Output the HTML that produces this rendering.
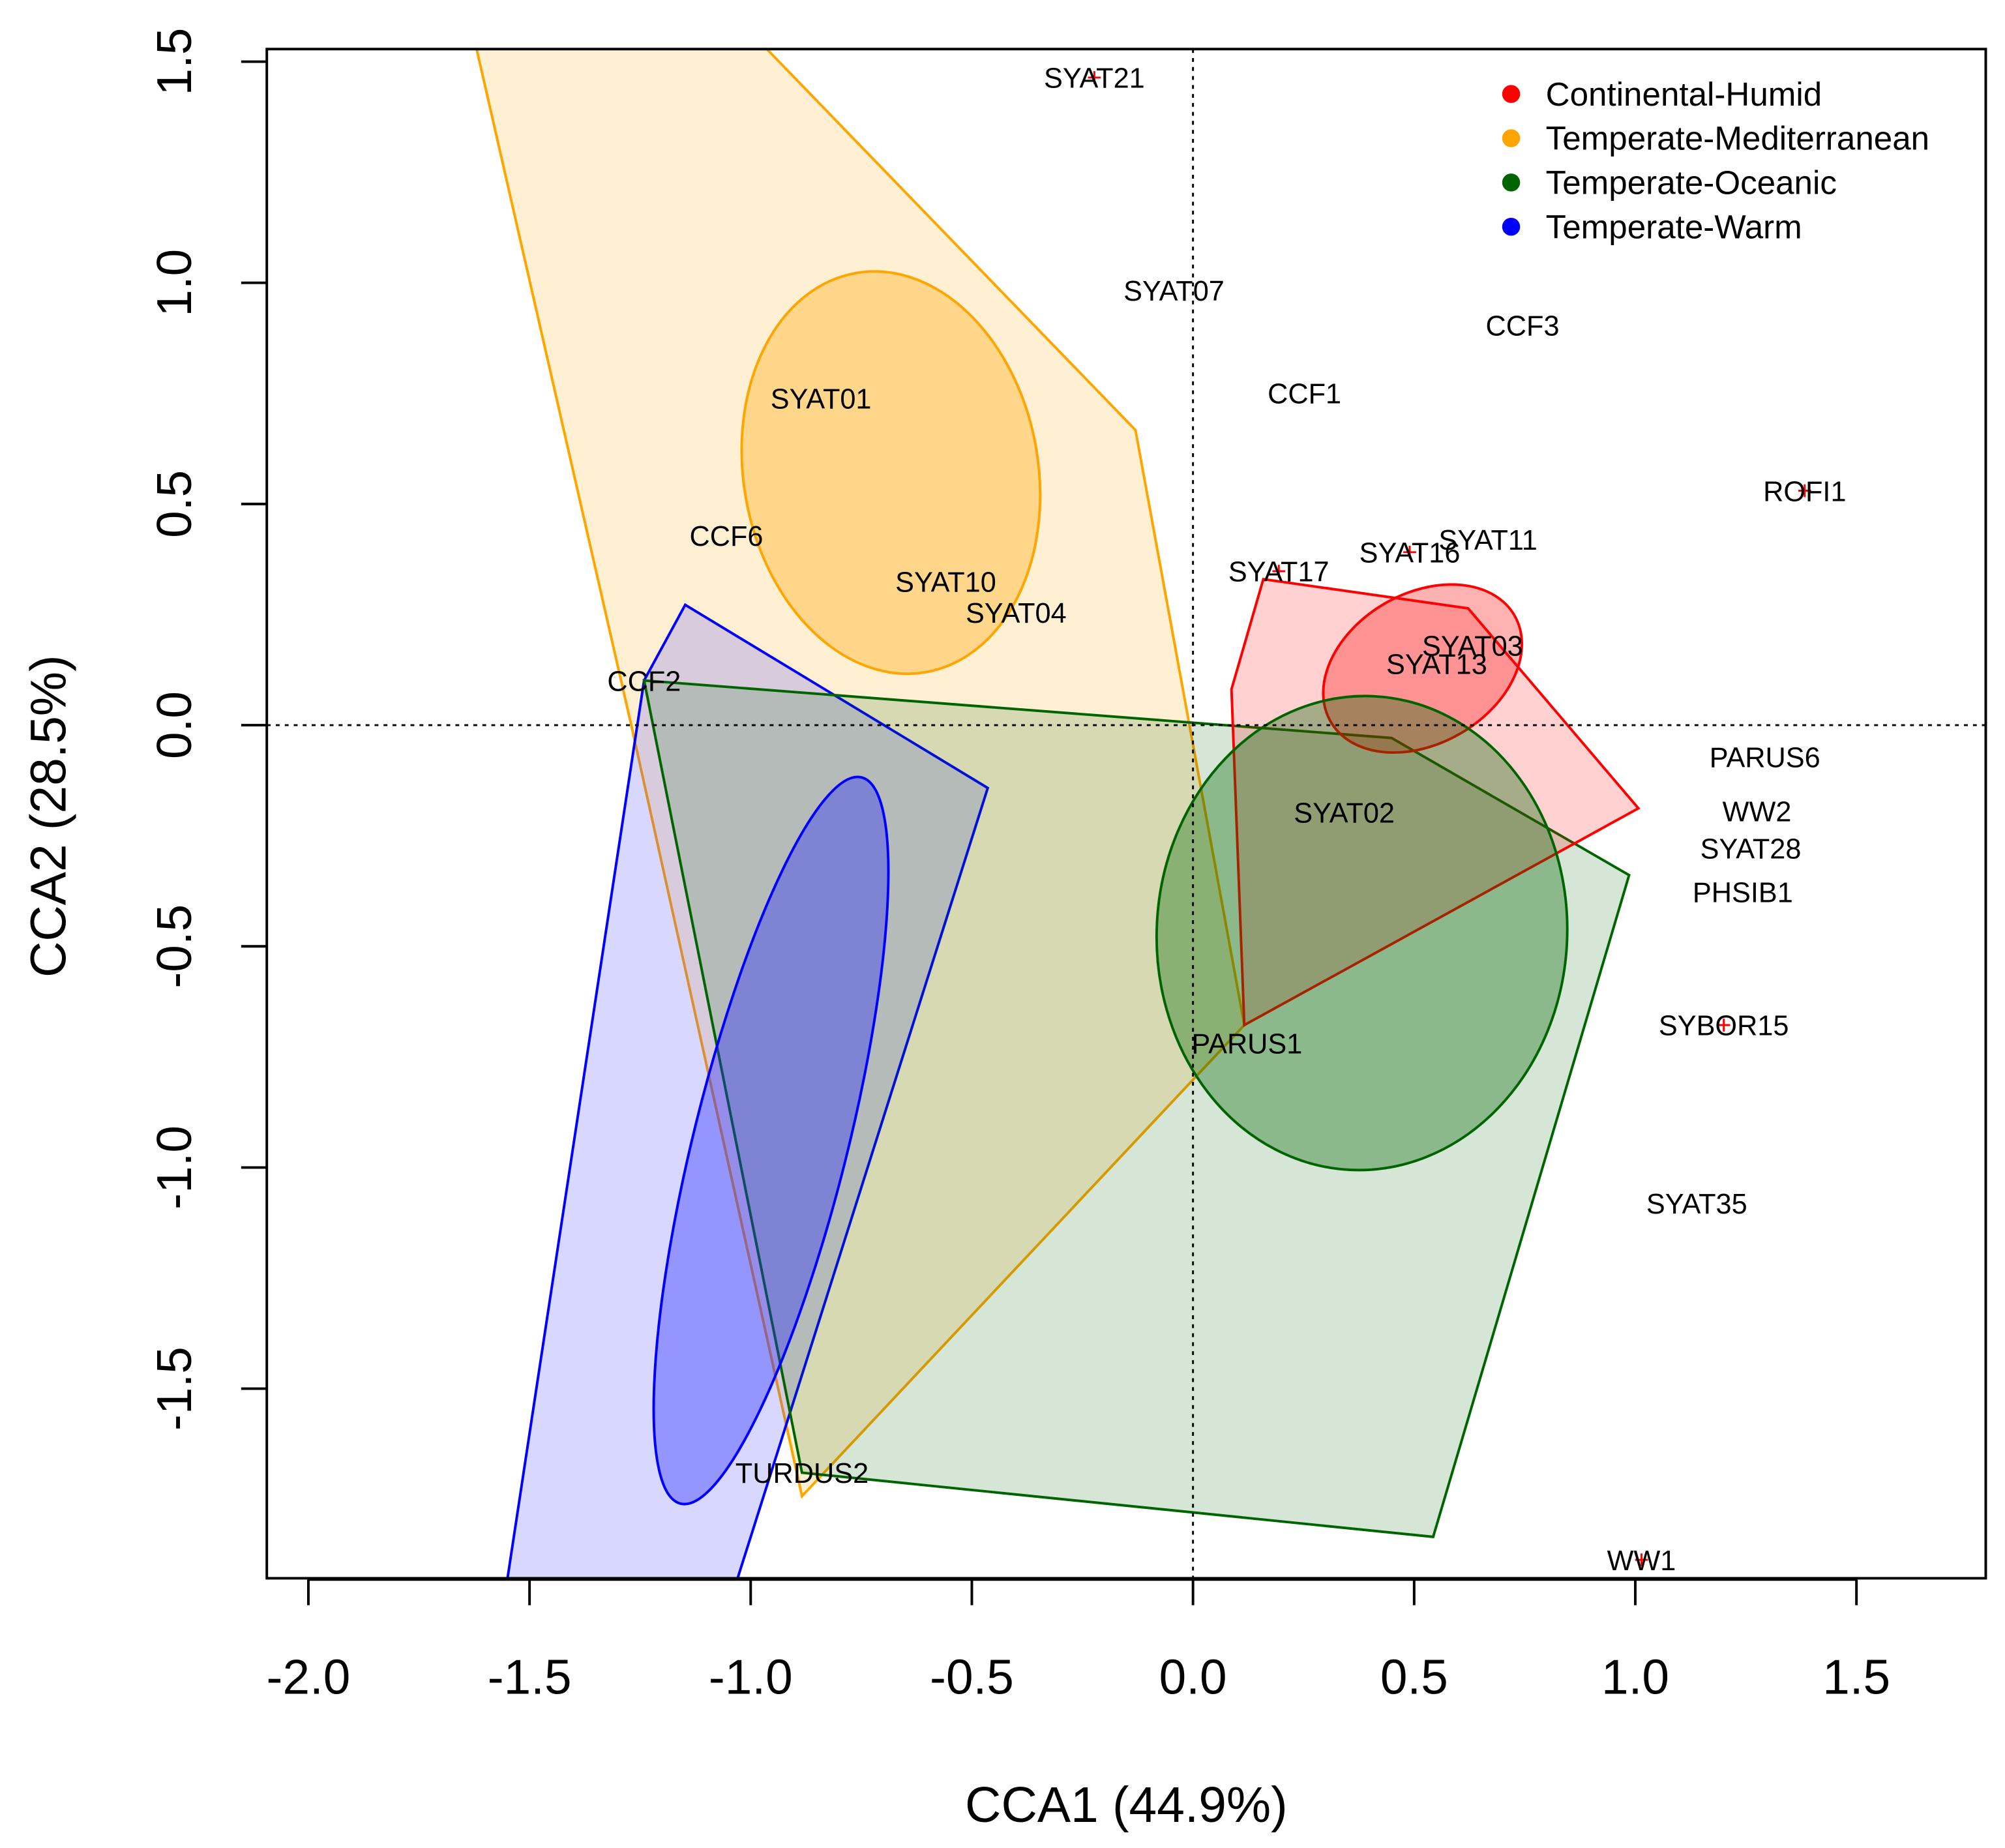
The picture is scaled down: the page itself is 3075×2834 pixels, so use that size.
<!DOCTYPE html>
<html><head><meta charset="utf-8"><style>
html,body{margin:0;padding:0;background:#fff;}
svg{display:block;font-family:"Liberation Sans",sans-serif;}
</style></head><body>
<svg id="chart" width="3075" height="2834" viewBox="0 0 1563 1440" xmlns="http://www.w3.org/2000/svg">
<defs><clipPath id="clip"><rect x="208" y="38" width="1340" height="1192"/></clipPath></defs>
<g id="plot" clip-path="url(#clip)"></g>
<g id="axes"></g>
</svg>
<script>
const labels=["SYAT21","SYAT07","CCF3","CCF1","SYAT01","ROFI1","CCF6","SYAT11","SYAT16","SYAT17","SYAT10","SYAT04","SYAT03","SYAT13","CCF2","PARUS6","SYAT02","WW2","SYAT28","PHSIB1","SYBOR15","PARUS1","SYAT35","TURDUS2","WW1"];
const xs=[-0.223,-0.043,0.745,0.252,-0.841,1.383,-1.055,0.667,0.490,0.194,-0.559,-0.400,0.632,0.551,-1.241,1.293,0.342,1.275,1.261,1.243,1.200,0.122,1.139,-0.884,1.014];
const ys=[1.464,0.983,0.904,0.751,0.739,0.530,0.429,0.420,0.391,0.348,0.325,0.255,0.180,0.139,0.101,-0.072,-0.197,-0.194,-0.278,-0.377,-0.678,-0.719,-1.081,-1.690,-1.887];
const crossIdx=[0,5,8,9,20,24];
const xTicks=[-2.0,-1.5,-1.0,-0.5,0.0,0.5,1.0,1.5];
const yTicks=[-1.5,-1.0,-0.5,0.0,0.5,1.0,1.5];
const hullOrangeX=[-1.620,-0.965,-0.130,0.116,-0.884,-1.270];
const hullOrangeY=[1.530,1.530,0.667,-0.678,-1.743,0.0];
const hullBlueX=[-1.148,-0.464,-1.030,-1.550,-1.241];
const hullBlueY=[0.272,-0.142,-1.930,-1.930,0.101];
const hullGreenX=[-1.241,0.449,0.986,0.543,-0.884];
const hullGreenY=[0.101,-0.029,-0.339,-1.835,-1.690];
const hullRedX=[0.159,0.622,1.007,0.116,0.087];
const hullRedY=[0.330,0.264,-0.188,-0.678,0.081];
const groups=["Continental-Humid","Temperate-Mediterranean","Temperate-Oceanic","Temperate-Warm"];
const groupColors=["#ff0000","#ffa500","#006400","#0000ff"];
const ellCx=[0.519,-0.683,0.382,-0.954];
const ellCy=[0.128,0.571,-0.470,-0.939];
const ellRx=[0.240,0.333,0.464,0.174];
const ellRy=[0.170,0.458,0.536,0.846];
const ellRot=[-30,-10,3,14];

const S=344.8;
const X=v=>930+v*S, Y=v=>565-v*S;
const NS="http://www.w3.org/2000/svg";
function mk(tag,attrs,parent){const e=document.createElementNS(NS,tag);for(const k in attrs)e.setAttribute(k,attrs[k]);parent.appendChild(e);return e;}
const plot=document.getElementById('plot'), axes=document.getElementById('axes');

function hull(hx,hy,fill,stroke,name){
  const pts=hx.map((v,i)=>X(v)+','+Y(hy[i])).join(' ');
  const p=mk('polygon',{points:pts,fill:fill,stroke:stroke,'stroke-width':2},plot);
  
  
}
hull(hullOrangeX,hullOrangeY,'rgba(255,165,0,0.17)','#ffa500','hull-temperate-mediterranean');
hull(hullBlueX,hullBlueY,'rgba(60,60,255,0.2)','#0000ff','hull-temperate-warm');
hull(hullGreenX,hullGreenY,'rgba(0,100,0,0.16)','#006400','hull-temperate-oceanic');
hull(hullRedX,hullRedY,'rgba(255,0,0,0.18)','#ff0000','hull-continental-humid');

const ellNames=['ellipse-continental-humid','ellipse-temperate-mediterranean','ellipse-temperate-oceanic','ellipse-temperate-warm'];
const ellFill=['rgba(255,0,0,0.3)','rgba(255,165,0,0.35)','rgba(0,100,0,0.35)','rgba(40,40,255,0.38)'];
for(let i=0;i<4;i++){
  const cx=X(ellCx[i]),cy=Y(ellCy[i]);
  const e=mk('ellipse',{cx:cx,cy:cy,rx:ellRx[i]*S,ry:ellRy[i]*S,transform:`rotate(${ellRot[i]} ${cx} ${cy})`,fill:ellFill[i],stroke:groupColors[i],'stroke-width':2},plot);
  
  
}
let l=mk('line',{x1:X(0),x2:X(0),y1:38,y2:1230,stroke:'#000','stroke-width':1.5,'stroke-dasharray':'3,4'},plot);


l=mk('line',{x1:208,x2:1548,y1:Y(0),y2:Y(0),stroke:'#000','stroke-width':1.5,'stroke-dasharray':'3,4'},plot);


crossIdx.forEach(i=>{
  const g=mk('path',{d:`M${X(xs[i])-5},${Y(ys[i])}h10M${X(xs[i])},${Y(ys[i])-5}v10`,stroke:'#ff0000','stroke-width':1.5},plot);
  
  
});
labels.forEach((t,i)=>{
  const tx=mk('text',{x:X(xs[i]),y:Y(ys[i])+8,'font-size':22,'text-anchor':'middle',fill:'#000'},plot);
  tx.textContent=t;
  
  
});
const box=mk('rect',{x:208,y:38,width:1340,height:1192,fill:'none',stroke:'#000','stroke-width':2},axes);


let xa=mk('line',{x1:X(xTicks[0]),x2:X(xTicks[xTicks.length-1]),y1:1231,y2:1231,stroke:'#000','stroke-width':2},axes);


xTicks.forEach(v=>{
  const t=mk('line',{x1:X(v),x2:X(v),y1:1231,y2:1251,stroke:'#000','stroke-width':2},axes);
  
  
  const s=mk('text',{x:X(v),y:1320,'font-size':38,'text-anchor':'middle'},axes);
  s.textContent=v.toFixed(1);
  
  
});
yTicks.forEach(v=>{
  const t=mk('line',{x1:188,x2:208,y1:Y(v),y2:Y(v),stroke:'#000','stroke-width':2},axes);
  
  
  const s=mk('text',{x:0,y:0,'font-size':38,'text-anchor':'middle',transform:`translate(149 ${Y(v)}) rotate(-90)`},axes);
  s.textContent=v.toFixed(1);
  
  
});
let xt=mk('text',{x:878,y:1420,'font-size':39,'text-anchor':'middle'},axes);
xt.textContent='CCA1 (44.9%)';


let yt=mk('text',{x:0,y:0,'font-size':39,'text-anchor':'middle',transform:'translate(51 636) rotate(-90)'},axes);
yt.textContent='CCA2 (28.5%)';


groups.forEach((g,i)=>{
  const y=73+i*34.5;
  const c=mk('circle',{cx:1178,cy:y,r:7,fill:groupColors[i]},axes);
  
  
  const t=mk('text',{x:1205,y:y+9,'font-size':26},axes);
  t.textContent=g;
  
  
});
</script>
</body></html>
